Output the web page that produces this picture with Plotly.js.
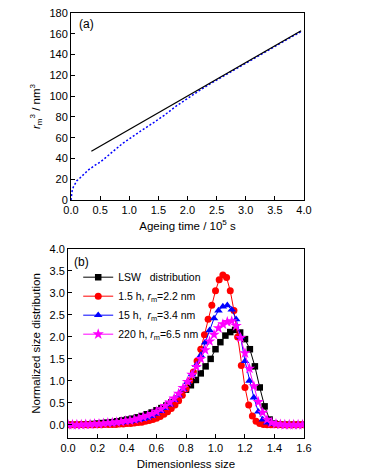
<!DOCTYPE html>
<html>
<head>
<meta charset="utf-8">
<script src="https://cdn.plot.ly/plotly-3.0.1.min.js"></script>
<style>
html,body{margin:0;padding:0;background:#fff;}
#chart{width:376px;height:475px;}
</style>
</head>
<body>
<div id="chart"></div>
<script>
// ---- Panel (a): r_m^3 vs ageing time ----
var fitTime = [0.35, 1.0, 2.0, 3.0, 3.95];
var fitR3 = [47, 67.9, 100.1, 132.3, 162.9];
var simTime = [0, 0.01, 0.02, 0.04, 0.07, 0.1, 0.15, 0.2, 0.3, 0.4, 0.5, 0.6, 0.7, 0.8, 0.9, 1.0, 1.2, 1.4, 1.6, 1.8, 2.0, 2.2, 2.4, 2.6, 2.8, 3.0, 3.5, 3.95];
var simR3 = [0, 6, 9, 12.5, 16, 18.5, 21, 24, 29, 33, 36.5, 41, 46, 50.5, 55, 59, 66.5, 73.8, 81.5, 90.2, 98, 105.2, 112.2, 118.7, 125.2, 131.6, 147.7, 162.2];

// ---- Panel (b): size distributions ----
var lswSize = [0,0.033,0.067,0.1,0.133,0.167,0.2,0.233,0.267,0.3,0.333,0.367,0.4,0.433,0.467,0.5,0.533,0.567,0.6,0.633,0.667,0.7,0.733,0.767,0.8,0.833,0.867,0.9,0.933,0.967,1.0,1.033,1.067,1.1,1.133,1.167,1.2,1.233,1.267,1.3,1.333,1.367,1.4,1.433,1.467,1.5,1.533,1.567,1.6];
var lswDist = [0,0,0,0.01,0.01,0.02,0.03,0.04,0.05,0.06,0.08,0.10,0.12,0.14,0.17,0.20,0.24,0.28,0.33,0.38,0.44,0.51,0.59,0.69,0.80,0.90,1.02,1.17,1.33,1.50,1.72,1.88,2.03,2.11,2.16,2.10,1.95,1.72,1.33,0.85,0.42,0.12,0.03,0.01,0,0,0,0,0];

var h15Size = [0,0.025,0.05,0.075,0.1,0.125,0.15,0.175,0.2,0.225,0.25,0.275,0.3,0.325,0.35,0.375,0.4,0.425,0.45,0.475,0.5,0.525,0.55,0.575,0.6,0.625,0.65,0.675,0.7,0.725,0.75,0.775,0.8,0.825,0.85,0.875,0.9,0.925,0.95,0.975,1.0,1.025,1.05,1.075,1.1,1.125,1.15,1.175,1.2,1.225,1.25,1.275,1.3,1.325,1.35,1.375,1.4,1.425,1.45,1.475,1.5,1.525,1.55,1.575,1.6];
var h15Dist = [0,0,0,0,0,0,0,0,0,0,0.005,0.01,0.01,0.01,0.02,0.02,0.03,0.03,0.04,0.05,0.06,0.08,0.10,0.12,0.15,0.19,0.24,0.30,0.37,0.45,0.55,0.67,0.82,1.00,1.20,1.45,1.72,2.05,2.40,2.72,3.05,3.30,3.41,3.35,3.05,2.60,2.00,1.35,0.85,0.45,0.20,0.08,0.03,0.01,0,0,0,0,0,0,0,0,0,0,0];

var h150Size = [0,0.03,0.06,0.09,0.12,0.15,0.18,0.21,0.24,0.27,0.30,0.33,0.36,0.39,0.42,0.45,0.48,0.51,0.54,0.57,0.60,0.63,0.66,0.69,0.72,0.75,0.78,0.81,0.84,0.87,0.90,0.93,0.96,0.99,1.02,1.05,1.08,1.11,1.14,1.17,1.20,1.23,1.26,1.29,1.32,1.35,1.38,1.41,1.44,1.47,1.50,1.53,1.56,1.59];
var h150Dist = [0,0,0,0,0,0,0.01,0.01,0.02,0.02,0.03,0.04,0.05,0.06,0.07,0.09,0.11,0.13,0.16,0.20,0.25,0.31,0.38,0.46,0.56,0.67,0.81,0.97,1.15,1.36,1.58,1.87,2.15,2.42,2.60,2.69,2.72,2.62,2.40,2.00,1.45,1.00,0.62,0.30,0.12,0.05,0.02,0.01,0,0,0,0,0,0];

var h2200Size = [0,0.03,0.06,0.09,0.12,0.15,0.18,0.21,0.24,0.27,0.30,0.33,0.36,0.39,0.42,0.45,0.48,0.51,0.54,0.57,0.60,0.63,0.66,0.69,0.72,0.75,0.78,0.81,0.84,0.87,0.90,0.93,0.96,0.99,1.02,1.05,1.08,1.11,1.14,1.17,1.20,1.23,1.26,1.29,1.32,1.35,1.38,1.41,1.44,1.47,1.50,1.53,1.56,1.59];
var h2200Dist = [0,0,0,0,0.01,0.01,0.02,0.02,0.03,0.04,0.05,0.06,0.07,0.09,0.10,0.12,0.15,0.18,0.21,0.25,0.30,0.36,0.43,0.51,0.60,0.71,0.84,0.98,1.14,1.32,1.50,1.70,1.90,2.05,2.20,2.29,2.34,2.36,2.25,1.98,1.63,1.28,0.88,0.52,0.28,0.12,0.05,0.02,0.01,0,0,0,0,0];

var legendNames = [
  'LSW\u00A0\u00A0\u00A0distribution',
  '1.5 h, <i>r</i><sub>m</sub>=2.2 nm',
  '15 h,\u00A0\u00A0<i>r</i><sub>m</sub>=3.4 nm',
  '220 h, <i>r</i><sub>m</sub>=6.5 nm'
];

var FONT = 'Liberation Sans, Arial, sans-serif';

var traces = [
  {x: simTime, y: simR3, xaxis: 'x', yaxis: 'y', mode: 'lines', showlegend: false,
   line: {color: '#0000ff', width: 1.5, dash: '2px,2px'}},
  {x: fitTime, y: fitR3, xaxis: 'x', yaxis: 'y', mode: 'lines', showlegend: false,
   line: {color: '#000000', width: 1.3}},
  {x: lswSize, y: lswDist, xaxis: 'x2', yaxis: 'y2', mode: 'lines+markers', name: legendNames[0],
   line: {color: '#000000', width: 1}, marker: {symbol: 'square', size: 6.5, color: '#000000'}},
  {x: h15Size, y: h15Dist, xaxis: 'x2', yaxis: 'y2', mode: 'lines+markers', name: legendNames[1],
   line: {color: '#ff0000', width: 1}, marker: {symbol: 'circle', size: 7, color: '#ff0000'}},
  {x: h150Size, y: h150Dist, xaxis: 'x2', yaxis: 'y2', mode: 'lines+markers', name: legendNames[2],
   line: {color: '#0000ff', width: 1}, marker: {symbol: 'triangle-up', size: 7.5, color: '#0000ff'}},
  {x: h2200Size, y: h2200Dist, xaxis: 'x2', yaxis: 'y2', mode: 'lines+markers', name: legendNames[3],
   line: {color: '#ff00ff', width: 1}, marker: {symbol: 'star', size: 8.5, color: '#ff00ff'}}
];

function axisBase(extra) {
  var a = {
    showline: true, mirror: true, linecolor: '#000', linewidth: 1,
    ticks: 'inside', ticklen: 4, tickwidth: 1, tickcolor: '#000',
    showgrid: false, zeroline: false,
    tickfont: {family: FONT, size: 11, color: '#000'},
    title: {font: {family: FONT, size: 11.5, color: '#000'}}
  };
  for (var k in extra) {
    if (k === 'title') { a.title.text = extra.title; a.title.standoff = extra.standoff; }
    else if (k !== 'standoff') a[k] = extra[k];
  }
  return a;
}

var layout = {
  width: 376, height: 475,
  margin: {l: 0, r: 0, t: 0, b: 0},
  paper_bgcolor: '#fff', plot_bgcolor: '#fff',
  showlegend: true,
  font: {family: FONT, size: 11, color: '#000'},
  xaxis: axisBase({anchor: 'y', domain: [0.1888, 0.8085], range: [0, 4], dtick: 0.5, tickformat: '.1f',
    title: 'Ageing time / 10<sup>5</sup> s', standoff: 6}),
  yaxis: axisBase({anchor: 'x', domain: [0.5789, 0.9726], range: [0, 180], dtick: 20,
    title: '<i>r</i><sub>m</sub><sup>3</sup> / nm<sup>3</sup>', standoff: 6}),
  xaxis2: axisBase({anchor: 'y2', domain: [0.1809, 0.8085], range: [0, 1.6], dtick: 0.2, tickformat: '.1f',
    title: 'Dimensionless size', standoff: 6}),
  yaxis2: axisBase({anchor: 'x2', domain: [0.0779, 0.4758], range: [-0.3, 4.0], dtick: 0.5, tickformat: '.1f',
    title: 'Normalized size distribution', standoff: 6}),
  legend: {x: 0.208, y: 0.447, xanchor: 'left', yanchor: 'top', bgcolor: 'rgba(0,0,0,0)',
    font: {family: FONT, size: 10.5, color: '#000'}, tracegroupgap: 0, itemwidth: 30},
  annotations: [
    {xref: 'paper', yref: 'paper', x: 77/376, y: 1 - 24/475, xanchor: 'left', yanchor: 'middle',
     text: '(a)', showarrow: false, font: {family: FONT, size: 12, color: '#000'}},
    {xref: 'paper', yref: 'paper', x: 72/376, y: 1 - 262/475, xanchor: 'left', yanchor: 'middle',
     text: '(b)', showarrow: false, font: {family: FONT, size: 12, color: '#000'}}
  ]
};

Plotly.newPlot('chart', traces, layout, {staticPlot: true, displayModeBar: false});
</script>
</body>
</html>
